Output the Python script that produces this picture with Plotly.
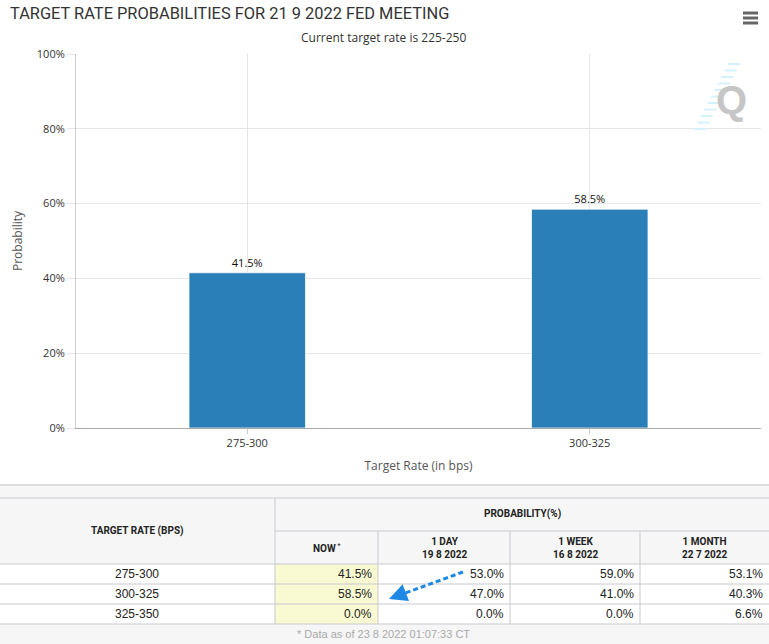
import plotly.graph_objects as go

# --- data ---
bar_rates = ['275-300', '300-325']
bar_probs = [41.5, 58.5]

y_ticks = [0, 20, 40, 60, 80, 100]

table_rates = ['275-300', '300-325', '325-350']
table_cols = ['NOW', '1 DAY<br>19 8 2022', '1 WEEK<br>16 8 2022', '1 MONTH<br>22 7 2022']
prob_now = [41.5, 58.5, 0.0]
prob_1day = [53.0, 47.0, 0.0]
prob_1week = [59.0, 41.0, 0.0]
prob_1month = [53.1, 40.3, 6.6]

W, H = 769, 644
L, R, T, B = 76, 8, 54, 216


# pixel -> paper helpers
def px(x):
    return (x - L) / (W - L - R)


def py(y):
    return (H - B - y) / (H - T - B)


def label(text, x, y, anchor='center', font=None):
    return dict(text=text, x=px(x), y=py(y), xref='paper', yref='paper',
                xanchor=anchor, yanchor='middle', showarrow=False, font=font)


fig = go.Figure()

fig.add_trace(go.Bar(
    x=bar_rates,
    y=bar_probs,
    width=0.34,
    marker_color='#2b7fb8',
    marker_line=dict(color='rgba(255,255,255,0.7)', width=1),
    texttemplate='%{y:.1f}%',
    textposition='outside',
    textfont=dict(size=11, color='#111', family='Open Sans'),
    cliponaxis=False,
    hoverinfo='skip',
))

shapes = []
ann = []

# title, subtitle, watermark
ann.append(label('TARGET RATE PROBABILITIES FOR 21 9 2022 FED MEETING', 8, 13, 'left',
                 dict(size=16.4, color='#333', family='Roboto, sans-serif')))
ann.append(label('Current target rate is 225-250', 383, 37, 'center',
                 dict(size=12, color='#333', family='Open Sans')))
for k in range(11):
    yy = 64 + k * 6.5
    xr = 740 - k * 3.4
    shapes.append(dict(type='line', xref='paper', yref='paper', x0=px(xr - 12), x1=px(xr),
                       y0=py(yy), y1=py(yy), line=dict(color='#d4f2fb', width=2)))
ann.append(label('<b>Q</b>', 731, 100, 'center',
                 dict(size=40, color='#c6c6c6', family='Liberation Sans')))

# hamburger icon
for yy in [13, 18, 23]:
    shapes.append(dict(type='line', xref='paper', yref='paper', x0=px(743), x1=px(758),
                       y0=py(yy), y1=py(yy), line=dict(color='#666', width=3)))

# table geometry (pixels)
col_x = [0, 275, 378, 510, 640, 769]
row_y = [564, 584, 604, 624]
border = '#c8c8d2'

# background panels
shapes.append(dict(type='rect', xref='paper', yref='paper', x0=px(0), x1=px(769),
                   y0=py(486), y1=py(564), fillcolor='#f6f6f6', line=dict(width=0), layer='below'))
shapes.append(dict(type='rect', xref='paper', yref='paper', x0=px(0), x1=px(769),
                   y0=py(624), y1=py(644), fillcolor='#f6f6f6', line=dict(width=0), layer='below'))
shapes.append(dict(type='rect', xref='paper', yref='paper', x0=px(col_x[1]), x1=px(col_x[2]),
                   y0=py(564), y1=py(624), fillcolor='#fafad2', line=dict(width=0), layer='below'))
shapes.append(dict(type='line', xref='paper', yref='paper', x0=px(0), x1=px(769),
                   y0=py(485), y1=py(485), line=dict(color='#dcdcdc', width=2)))

# horizontal lines
for yy in [498] + row_y:
    shapes.append(dict(type='line', xref='paper', yref='paper', x0=px(0), x1=px(769),
                       y0=py(yy), y1=py(yy), line=dict(color=border, width=1)))
shapes.append(dict(type='line', xref='paper', yref='paper', x0=px(275), x1=px(769),
                   y0=py(531), y1=py(531), line=dict(color=border, width=1)))
# vertical lines
shapes.append(dict(type='line', xref='paper', yref='paper', x0=px(275), x1=px(275),
                   y0=py(498), y1=py(624), line=dict(color=border, width=1)))
for xx in col_x[2:5]:
    shapes.append(dict(type='line', xref='paper', yref='paper', x0=px(xx), x1=px(xx),
                       y0=py(531), y1=py(624), line=dict(color=border, width=1)))

tfont = dict(size=12, color='#222', family='Liberation Sans')
hfont = dict(size=10, color='#222', family='Roboto')

ann.append(label('<b>TARGET RATE (BPS)</b>', 137, 531, 'center', hfont))
ann.append(label('<b>PROBABILITY(%)</b>', 522, 514, 'center', hfont))
for i, name in enumerate(table_cols):
    txt = '<b>' + name + '</b>'
    if name == 'NOW':
        txt = '<b>NOW</b><sup> *</sup>'
    cx = (col_x[i + 1] + col_x[i + 2]) / 2
    ann.append(label(txt, cx, 548, 'center', hfont))

cols = [prob_now, prob_1day, prob_1week, prob_1month]
for r, rate in enumerate(table_rates):
    cy = (row_y[r] + row_y[r + 1]) / 2
    ann.append(label(rate, 137, cy, 'center', tfont))
    for c, vals in enumerate(cols):
        ann.append(label('%.1f%%' % vals[r], col_x[c + 2] - 4, cy, 'right', tfont))

ann.append(label('* Data as of 23 8 2022 01:07:33 CT', 383, 634, 'center',
                 dict(size=11, color='#aaa', family='Liberation Sans')))

# dashed blue arrow
shapes.append(dict(type='line', xref='paper', yref='paper', x0=px(463), x1=px(400),
                   y0=py(572), y1=py(595), line=dict(color='#1e88e5', width=3, dash='5px,3px')))
ann.append(dict(text='', x=px(389), y=py(599), ax=13, ay=-5,
                xref='paper', yref='paper', showarrow=True, arrowhead=2, arrowsize=1.2,
                arrowwidth=3, arrowcolor='#1e88e5'))

fig.update_layout(
    width=W, height=H,
    margin=dict(l=L, r=R, t=T, b=B, autoexpand=False),
    plot_bgcolor='white', paper_bgcolor='white',
    showlegend=False,
    shapes=shapes,
    annotations=ann,
    font=dict(family='Open Sans', color='#333'),
    xaxis=dict(
        title=dict(text='Target Rate (in bps)', font=dict(size=12, color='#555'), standoff=12),
        showgrid=True, gridcolor='#e6e6e6',
        showline=True, linecolor='#aaa', linewidth=1,
        ticks='outside', ticklen=5, tickcolor='#ccc',
        tickfont=dict(size=11, color='#333'),
        fixedrange=True,
    ),
    yaxis=dict(
        title=dict(text='Probability', font=dict(size=12, color='#555'), standoff=11),
        range=[0, 100],
        tickvals=y_ticks,
        ticktext=['%d%%' % v for v in y_ticks],
        showgrid=True, gridcolor='#e6e6e6',
        showline=True, linecolor='#ccc', linewidth=1,
        ticks='outside', ticklen=8, tickcolor='#e6e6e6',
        tickfont=dict(size=11, color='#333'),
        zeroline=False,
        fixedrange=True,
    ),
)

fig.write_html('out.html', config={'displayModeBar': False},
               post_script="document.body.style.margin='0';")
